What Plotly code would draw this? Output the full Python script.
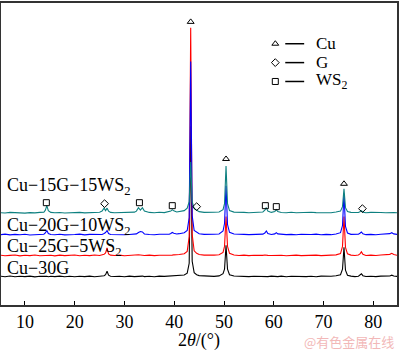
import plotly.graph_objects as go

# 2-theta sample positions (degrees)
two_theta = [
    5, 6, 7, 8, 9, 10, 11, 12, 13, 13.8,
    14.1, 14.4, 14.7, 15.2, 16, 17, 18, 19, 20, 21,
    22, 23, 24, 25, 25.5, 25.9, 26.2, 26.5, 26.8, 27.2,
    28, 29, 30, 31, 32, 32.4, 32.8, 33.2, 33.6, 34.0,
    35, 36, 37, 38, 39, 39.3, 39.6, 39.9, 40.5, 41,
    42, 42.6, 43.0, 43.3, 43.6, 44.0, 44.5, 45, 46, 47,
    48, 49, 49.8, 50.1, 50.4, 50.7, 51.1, 52, 53, 54,
    55, 56, 57, 57.8, 58.2, 58.5, 58.8, 59.5, 60.2, 60.5,
    60.8, 61.5, 62.5, 63.5, 64.5, 65.5, 66.5, 67.5, 68.5, 69.5,
    70.5, 71.5, 72.5, 73.4, 73.8, 74.1, 74.4, 74.8, 75.5, 76.3,
    77.0, 77.3, 77.6, 77.9, 78.5, 79.5, 80.5, 81.5, 82.5, 83.3,
    83.7, 84.1, 84.8,
]

# intensities (arbitrary units) above each pattern's own baseline
int_cu30g = [
    1.0, 0.5, 1.2, 0.4, 1.0, 0.6, 1.1, 0.3, 0.9, 0.5,
    0.8, 1.0, 0.4, 0.9, 0.6, 1.1, 0.5, 0.9, 0.4, 1.0,
    0.6, 1.1, 0.5, 1.0, 1.2, 1.5, 2.5, 6.0, 2.0, 1.0,
    0.7, 1.0, 0.5, 1.1, 0.6, 0.9, 1.0, 0.8, 1.1, 0.6,
    1.0, 0.5, 1.1, 0.8, 1.2, 0.9, 1.3, 1.0, 1.4, 1.6,
    2.2, 4.0, 14, 152, 16, 4.5, 2.5, 1.6, 1.2, 1.0,
    0.8, 1.3, 3.5, 8, 32, 8, 2.5, 1.2, 0.8, 1.1,
    0.6, 1.0, 0.7, 1.1, 0.8, 1.0, 0.6, 1.1, 0.7, 1.0,
    0.6, 1.1, 0.5, 1.0, 0.7, 1.1, 0.6, 1.0, 0.5, 1.1,
    0.7, 1.0, 1.4, 2.5, 8, 30, 7, 2, 1.1, 0.6,
    1.0, 2.0, 3.5, 1.5, 0.7, 1.0, 0.6, 1.1, 0.8, 1.2,
    2.0, 1.2, 0.8,
]
int_cu25g5ws2 = [
    1.2, 0.6, 1.0, 1.4, 0.5, 1.1, 0.7, 1.3, 0.6, 1.0,
    1.2, 1.4, 0.8, 1.1, 0.5, 1.2, 0.7, 1.0, 1.3, 0.6,
    1.1, 0.7, 1.3, 0.9, 1.4, 2.0, 3.5, 8.5, 2.5, 1.2,
    0.8, 1.2, 0.6, 1.1, 0.9, 1.3, 1.6, 1.4, 1.0, 0.8,
    1.2, 0.7, 1.1, 0.9, 1.3, 1.0, 1.2, 1.5, 1.3, 1.8,
    2.6, 5.0, 20, 230, 22, 5.5, 3.0, 1.8, 1.2, 0.9,
    1.2, 1.5, 4.0, 10, 40, 10, 3.0, 1.4, 0.9, 1.2,
    0.7, 1.1, 0.8, 1.0, 1.3, 1.5, 1.0, 0.8, 1.1, 1.2,
    0.9, 1.1, 0.6, 1.0, 1.2, 0.7, 1.1, 0.8, 1.2, 0.7,
    1.0, 0.8, 1.5, 2.8, 10, 40, 9, 2.5, 1.2, 0.8,
    1.3, 2.5, 4.5, 2.0, 0.9, 1.2, 0.8, 1.3, 1.5, 2.0,
    3.0, 1.8, 1.0,
]
int_cu20g10ws2 = [
    0.8, 1.3, 0.6, 1.1, 0.7, 1.2, 0.5, 1.0, 0.8, 1.2,
    2.5, 5.0, 2.0, 1.0, 0.7, 1.2, 0.6, 1.1, 0.9, 1.3,
    0.6, 1.1, 0.8, 1.2, 1.0, 2.0, 3.0, 5.0, 2.0, 1.0,
    0.8, 1.2, 0.7, 1.0, 1.3, 1.6, 3.0, 4.0, 3.5, 1.5,
    1.0, 0.7, 1.2, 0.9, 1.2, 2.0, 3.0, 2.2, 1.5, 1.8,
    2.8, 5.0, 18, 175, 20, 5.0, 3.0, 1.8, 1.1, 0.9,
    1.2, 1.5, 4.5, 12, 50, 11, 3.2, 1.4, 0.9, 1.1,
    0.8, 1.1, 0.9, 1.3, 2.5, 4.5, 2.0, 1.0, 1.6, 2.8,
    1.6, 1.0, 0.8, 1.1, 0.7, 1.2, 0.8, 1.0, 1.3, 0.7,
    1.1, 0.8, 1.5, 2.8, 10, 42, 9, 2.5, 1.1, 0.8,
    1.2, 2.2, 3.5, 1.6, 0.8, 1.1, 0.7, 1.2, 1.4, 1.8,
    2.8, 1.6, 1.0,
]
int_cu15g15ws2 = [
    1.0, 0.6, 1.2, 0.8, 1.1, 0.5, 1.0, 0.7, 1.2, 1.4,
    3.5, 8.0, 3.0, 1.2, 0.8, 1.1, 0.6, 1.0, 0.8, 1.2,
    0.7, 1.0, 1.2, 1.4, 2.5, 5.5, 3.0, 5.5, 2.5, 1.2,
    0.9, 1.1, 0.7, 1.2, 1.5, 2.5, 6.0, 3.5, 6.0, 2.5,
    1.2, 0.8, 1.3, 1.0, 1.6, 2.5, 4.0, 2.8, 1.6, 1.9,
    3.0, 5.5, 12, 52, 12, 5.0, 3.5, 2.0, 1.2, 1.0,
    1.3, 1.6, 4.0, 10, 48, 10, 3.0, 1.5, 1.0, 1.2,
    0.8, 1.2, 1.0, 1.6, 3.5, 6.0, 2.5, 1.2, 2.0, 4.0,
    2.0, 1.1, 0.8, 1.3, 0.9, 1.2, 0.8, 1.3, 1.0, 0.8,
    1.2, 0.9, 1.6, 2.5, 7, 25, 6, 2.0, 1.2, 0.9,
    1.1, 1.8, 3.0, 1.5, 0.9, 1.2, 0.8, 1.1, 0.9, 1.2,
    1.4, 1.0, 0.8,
]

sample_names = ["Cu−30G", "Cu−25G−5WS<sub>2</sub>", "Cu−20G−10WS<sub>2</sub>", "Cu−15G−15WS<sub>2</sub>"]
sample_offsets = [28, 49, 70, 92]
sample_label_y = [37, 58, 79, 119]
sample_colors = ["#000000", "#ff0000", "#0000ff", "#0e8080"]
sample_intensities = [int_cu30g, int_cu25g5ws2, int_cu20g10ws2, int_cu15g15ws2]

# phase markers (2theta, height)
cu_marks_x = [43.3, 50.4, 74.1]
cu_marks_y = [285, 147, 122]
g_marks_x = [26.0, 44.5, 77.8]
g_marks_y = [102, 99, 97]
ws2_marks_x = [14.3, 33.0, 39.6, 58.3, 60.5]
ws2_marks_y = [103, 103, 100, 100, 99]

legend_names = ["Cu", "G", "WS<sub>2</sub>"]
legend_symbols = ["triangle-up-open", "diamond-open", "square-open"]
legend_y = [263, 244, 225]

x_ticks = [10, 20, 30, 40, 50, 60, 70, 80]

FONT = "Liberation Serif, Times New Roman, serif"
MSIZE = 6

fig = go.Figure()

for name, off, col, inten in zip(sample_names, sample_offsets, sample_colors, sample_intensities):
    fig.add_trace(go.Scatter(
        x=two_theta, y=[off + v for v in inten], mode="lines",
        line=dict(color=col, width=1.1), name=name, showlegend=False,
        hoverinfo="skip"))

for mx, my, sym in [(cu_marks_x, cu_marks_y, "triangle-up-open"),
                    (g_marks_x, g_marks_y, "diamond-open"),
                    (ws2_marks_x, ws2_marks_y, "square-open")]:
    fig.add_trace(go.Scatter(
        x=mx, y=my, mode="markers", showlegend=False, hoverinfo="skip",
        marker=dict(symbol=sym, size=MSIZE, color="black", line=dict(color="black", width=1))))

# custom legend
for nm, sym, ly in zip(legend_names, legend_symbols, legend_y):
    fig.add_trace(go.Scatter(
        x=[60.3], y=[ly], mode="markers", showlegend=False, hoverinfo="skip",
        marker=dict(symbol=sym, size=MSIZE, color="black", line=dict(color="black", width=1))))
    fig.add_shape(type="line", x0=62.3, x1=66.1, y0=ly, y1=ly, xref="x", yref="y",
                  line=dict(color="black", width=1.5))
    fig.add_annotation(x=68.0, y=ly, xref="x", yref="y", text=nm, showarrow=False,
                       xanchor="left", yanchor="middle",
                       font=dict(family=FONT, size=17, color="black"))

for nm, ly in zip(sample_names, sample_label_y):
    fig.add_annotation(x=6.0, y=ly, xref="x", yref="y", text=nm, showarrow=False,
                       xanchor="left", yanchor="middle",
                       font=dict(family=FONT, size=18, color="black"))

# axis title
fig.add_annotation(x=0.5, y=-0.118, xref="paper", yref="paper",
                   text="2<i>θ</i>/(°)", showarrow=False,
                   xanchor="center", yanchor="middle",
                   font=dict(family=FONT, size=18, color="black"))
# watermark
fig.add_annotation(x=0.998, y=-0.122, xref="paper", yref="paper",
                   text="@有色金属在线", showarrow=False,
                   xanchor="right", yanchor="middle",
                   font=dict(family="Noto Sans CJK SC", size=13, color="#f2b8b8"))

fig.update_layout(
    width=400, height=352,
    margin=dict(l=1, r=2, t=1, b=47),
    paper_bgcolor="white", plot_bgcolor="white",
    showlegend=False,
    xaxis=dict(range=[5.19, 84.75], tickvals=x_ticks, ticks="inside", ticklen=4,
               tickwidth=1, tickcolor="black", showline=True, linecolor="#333333",
               linewidth=1.5, mirror=True, showgrid=False, zeroline=False,
               tickfont=dict(family=FONT, size=18, color="black")),
    yaxis=dict(range=[0, 304], showticklabels=False, ticks="", showline=True,
               linecolor="#333333", linewidth=1.5, mirror=True, showgrid=False,
               zeroline=False),
)

fig.write_html("out.html")
